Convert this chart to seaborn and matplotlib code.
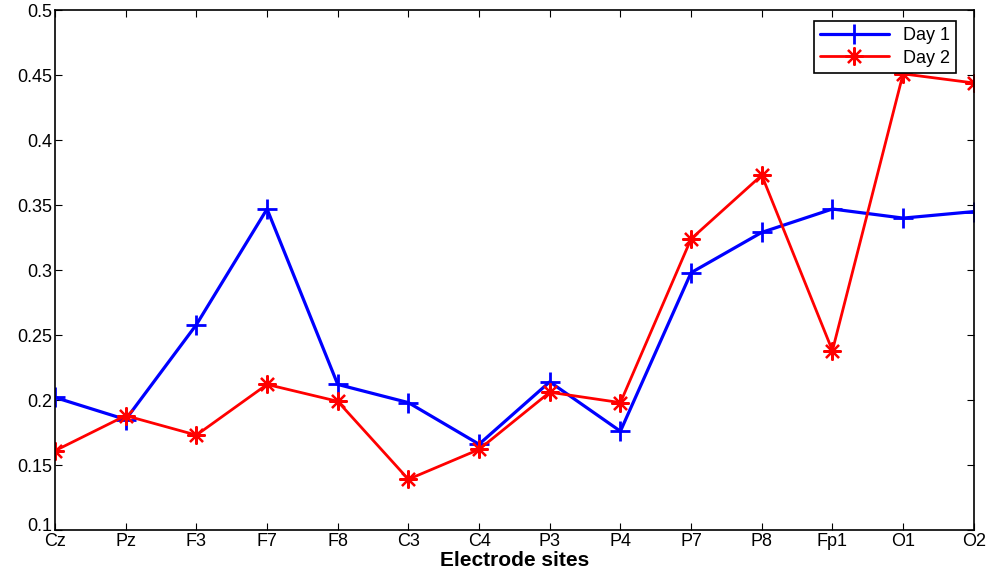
import matplotlib
matplotlib.use("Agg")
import matplotlib.pyplot as plt
import matplotlib.transforms as mtransforms
import seaborn as sns
import pandas as pd

# Data
sites = ["Cz", "Pz", "F3", "F7", "F8", "C3", "C4", "P3", "P4", "P7", "P8", "Fp1", "O1", "O2"]
day1 = [0.202, 0.185, 0.258, 0.347, 0.212, 0.198, 0.166, 0.214, 0.176, 0.298, 0.329, 0.347, 0.340, 0.345]
day2 = [0.161, 0.188, 0.173, 0.212, 0.199, 0.139, 0.162, 0.206, 0.198, 0.324, 0.373, 0.238, 0.451, 0.444]
y_ticks = [0.1, 0.15, 0.2, 0.25, 0.3, 0.35, 0.4, 0.45, 0.5]
y_tick_labels = ["0.1", "0.15", "0.2", "0.25", "0.3", "0.35", "0.4", "0.45", "0.5"]

sns.set_style("white")
plt.rcParams["font.family"] = ["Liberation Sans", "DejaVu Sans"]
plt.rcParams["text.color"] = "black"
plt.rcParams["axes.labelcolor"] = "black"
plt.rcParams["xtick.color"] = "black"
plt.rcParams["ytick.color"] = "black"

df = pd.DataFrame({"pos": list(range(len(sites))), "site": sites, "Day 1": day1, "Day 2": day2})

fig = plt.figure(figsize=(9.9, 5.75), dpi=100)
ax = fig.add_axes([0.0556, 0.0783, 0.928, 0.904])

# MATLAB style asterisk: 8 spokes
asterisk = (8, 2, 0)

sns.lineplot(data=df, x="pos", y="Day 1", ax=ax, color="blue", marker="+",
             markersize=15, markeredgewidth=2, markeredgecolor="blue",
             linewidth=2.3, label="Day 1", sort=False)
sns.lineplot(data=df, x="pos", y="Day 2", ax=ax, color="red", marker=asterisk,
             markersize=13, markeredgewidth=1.6, markeredgecolor="red",
             linewidth=2, label="Day 2", sort=False)

ax.set_xlim(0, len(sites) - 1)
ax.set_ylim(0.1, 0.5)
ax.set_xticks(df["pos"])
ax.set_xticklabels(sites, fontsize=13)
ax.set_yticks(y_ticks)
ax.set_yticklabels(y_tick_labels, fontsize=13)
ax.set_xlabel("Electrode sites", fontsize=15, fontweight="bold", labelpad=1)
ax.set_ylabel("")

ax.tick_params(direction="in", length=5, width=0.8, top=True, right=True,
               bottom=True, left=True, pad=2)
for side in ax.spines.values():
    side.set_visible(True)
    side.set_color("black")
    side.set_linewidth(1.2)

# lift the lowest y label a little so it clears "Cz", as in the reference
lift = mtransforms.ScaledTranslation(0, 5 / 100, fig.dpi_scale_trans)
first = ax.get_yticklabels()[0]
first.set_transform(first.get_transform() + lift)

leg = ax.legend(loc="upper right", fontsize=13, frameon=True, fancybox=False,
                edgecolor="black", borderaxespad=0.6, handlelength=3.8,
                borderpad=0.35, labelspacing=0.3, framealpha=1,
                bbox_to_anchor=(0.993, 1.0))
leg.get_frame().set_linewidth(1.2)

fig.savefig("out.png", dpi=100)
